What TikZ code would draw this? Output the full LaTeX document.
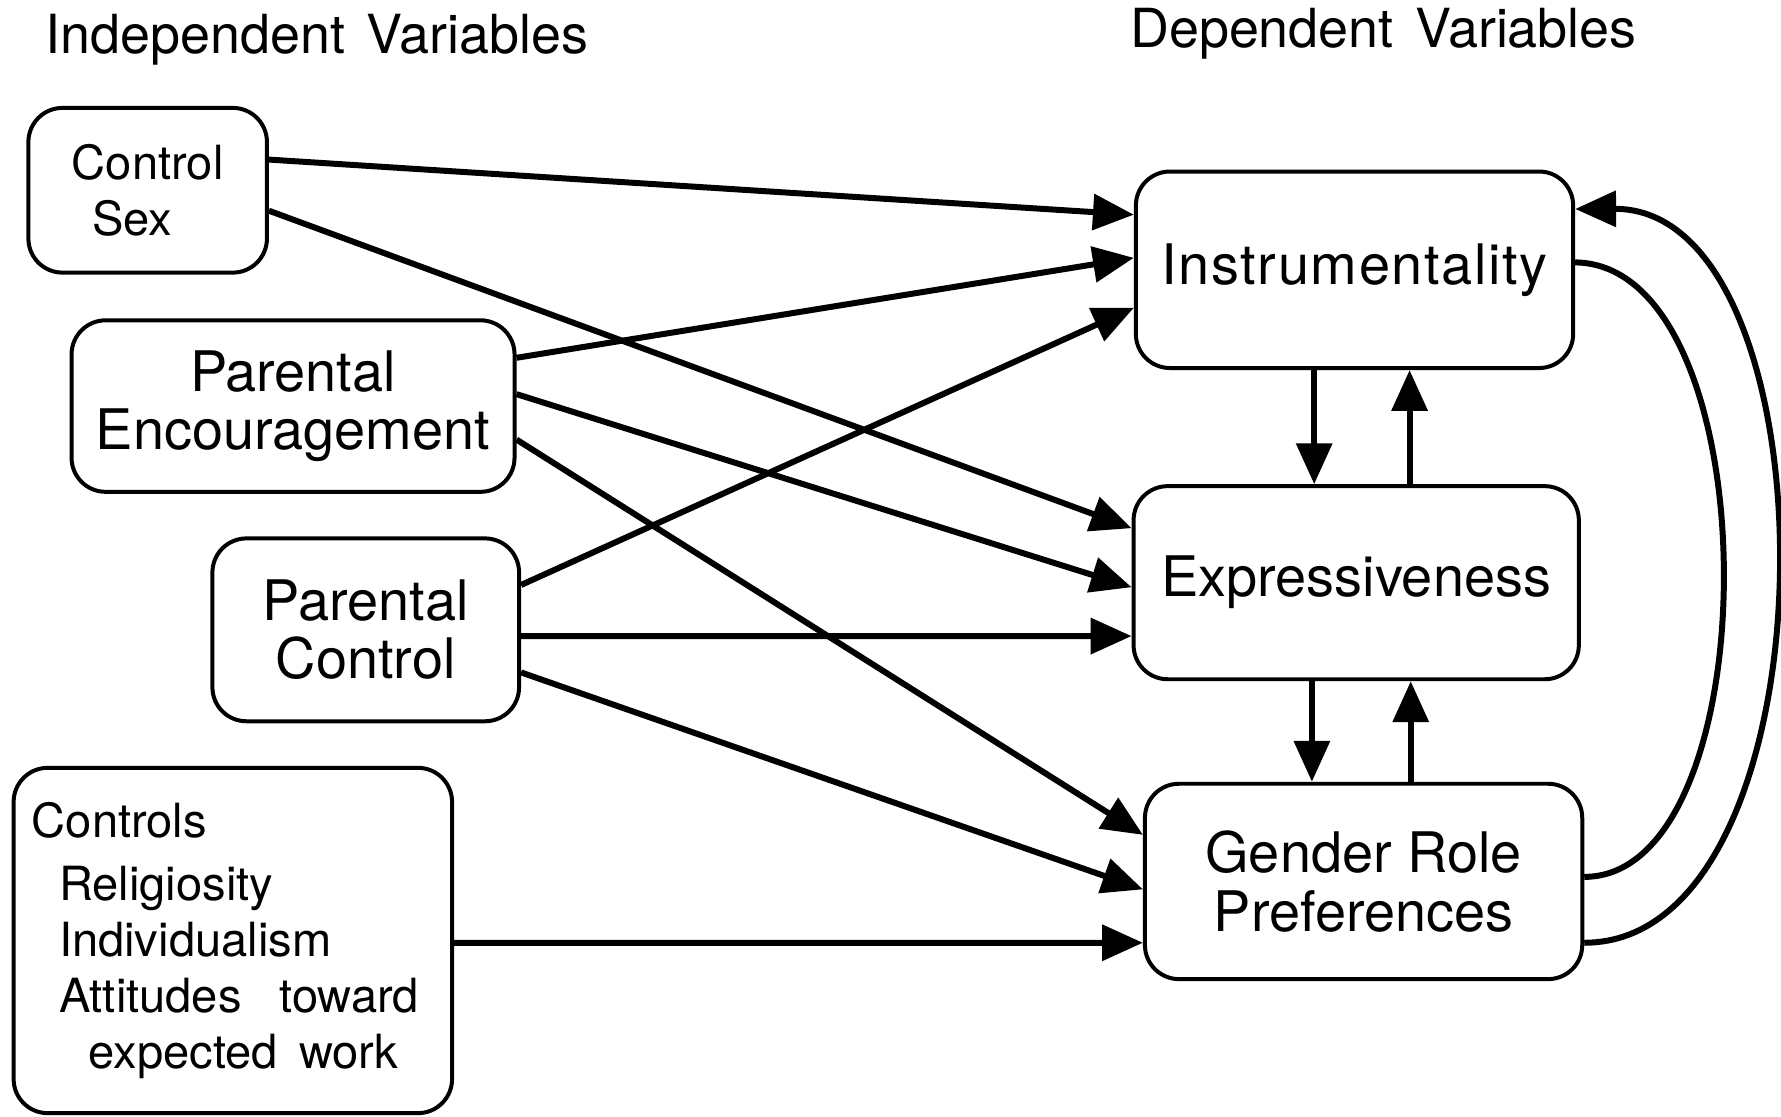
\documentclass[tikz,border=0pt]{standalone}
\usepackage{fontspec}
\setmainfont{TeX Gyre Heros}
\usetikzlibrary{arrows.meta}

\begin{document}
\begin{tikzpicture}
\tikzset{boite/.style={draw, rounded corners=0.3cm, line width=1pt, align=center, inner sep=0pt},
grandtexte/.style={font=\fontsize{14}{14.6}\selectfont},
petittexte/.style={font=\fontsize{11.8}{14}\selectfont},
titre/.style={font=\fontsize{13.5}{16}\selectfont, anchor=base},
fleche/.style={line width=1.5pt, -{Triangle[length=0.36cm, width=0.31cm]}}}
\useasboundingbox (0, 0) rectangle (15.68, 9.83);
\node[titre] (T1) at (2.79, 9.36) {Independent\hspace{0.4em}Variables};
\node[titre] (T2) at (12.18, 9.41) {Dependent\hspace{0.4em}Variables};
\node[boite, petittexte, align=left, minimum width=2.10cm, minimum height=1.45cm] (CS) at (1.30, 8.155) {Control\\\hspace*{0.18cm}Sex};
\node[boite, grandtexte, minimum width=3.90cm, minimum height=1.51cm] (PE) at (2.58, 6.255) {Parental\\Encouragement};
\node[boite, grandtexte, minimum width=2.70cm, minimum height=1.61cm] (PC) at (3.22, 4.285) {Parental\\Control};
\node[boite, petittexte, align=left, text width=3.54cm, minimum width=3.86cm, minimum height=3.04cm] (CT) at (2.05, 1.55) {Controls\\[0.6mm]\hspace*{0.24cm}Religiosity\\\hspace*{0.24cm}Individualism\\\hspace*{0.24cm}Attitudes\hspace{0.8em}toward\\\hspace*{0.5cm}expected\hspace{0.45em}work};
\node[boite, grandtexte, minimum width=3.85cm, minimum height=1.73cm] (IN) at (11.925, 7.455) {\addfontfeature{LetterSpace=3}Instrumentality};
\node[boite, grandtexte, minimum width=3.92cm, minimum height=1.70cm] (EX) at (11.94, 4.70) {Expressiveness};
\node[boite, grandtexte, minimum width=3.85cm, minimum height=1.72cm] (GR) at (12.005, 2.07) {Gender Role\\Preferences};
\draw[fleche] ([yshift=0.27cm]CS.east) -- ([yshift=0.485cm]IN.west);
\draw[fleche] ([yshift=-0.18cm]CS.east) -- ([yshift=0.48cm]EX.west);
\draw[fleche] ([yshift=0.425cm]PE.east) -- ([yshift=0.105cm]IN.west);
\draw[fleche] ([yshift=0.105cm]PE.east) -- ([yshift=-0.04cm]EX.west);
\draw[fleche] ([yshift=-0.295cm]PE.east) -- ([yshift=0.41cm]GR.west);
\draw[fleche] ([yshift=0.395cm]PC.east) -- ([yshift=-0.335cm]IN.west);
\draw[fleche] ([yshift=-0.055cm]PC.east) -- ([yshift=-0.47cm]EX.west);
\draw[fleche] ([yshift=-0.375cm]PC.east) -- ([yshift=-0.07cm]GR.west);
\draw[fleche] ([yshift=-0.02cm]CT.east) -- ([yshift=-0.54cm]GR.west);
\draw[fleche] ([xshift=-0.355cm]IN.south) -- ([xshift=-0.355cm]IN.south |- EX.north);
\draw[fleche] ([xshift=0.47cm]EX.north) -- ([xshift=0.47cm]EX.north |- IN.south);
\draw[fleche] ([xshift=-0.39cm]EX.south) -- ([xshift=-0.39cm]EX.south |- GR.north);
\draw[fleche] ([xshift=0.415cm]GR.north) -- ([xshift=0.415cm]GR.north |- EX.south);
\draw[line width=1.5pt] ([yshift=0.065cm]IN.east) .. controls (15.6, 7.5) and (15.6, 2.11) .. ([yshift=0.04cm]GR.east);
\draw[fleche] ([yshift=-0.54cm]GR.east) .. controls (16.2, 1.53) and (16.2, 8.0) .. ([yshift=0.535cm]IN.east);
\end{tikzpicture}
\end{document}
